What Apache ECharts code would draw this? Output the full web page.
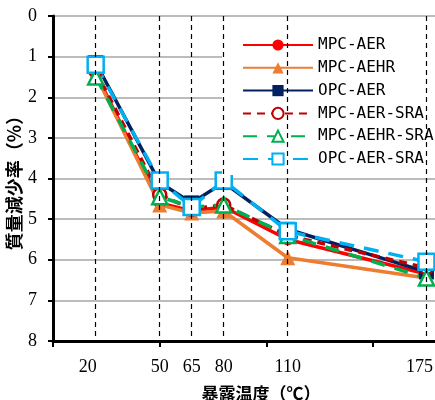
<!DOCTYPE html>
<html>
<head>
<meta charset="utf-8">
<script src="https://cdn.jsdelivr.net/npm/echarts@6/dist/echarts.min.js"></script>
<style>
  html, body { margin: 0; padding: 0; background: #fff; }
  #chart { width: 435px; height: 400px; }
</style>
</head>
<body>
<div id="chart"></div>
<script>
// exposure temperatures (deg C)
var temps = [20, 50, 65, 80, 110, 175]
var tickTemps = [0, 50, 100, 150]

// mass loss rate (%)
var mpcAer = [1.4, 4.6, 4.8, 4.7, 5.5, 6.35]
var mpcAehr = [1.45, 4.65, 4.85, 4.8, 5.95, 6.45]
var opcAer = [1.15, 4.1, 4.6, 4.1, 5.25, 6.3]
var mpcAerSra = [1.35, 4.4, 4.75, 4.65, 5.4, 6.2]
var mpcAehrSra = [1.5, 4.45, 4.7, 4.65, 5.4, 6.45]
var opcAerSra = [1.2, 4.05, 4.7, 4.05, 5.3, 6.05]

function pairs(vals) {
  return temps.map(function (t, i) { return [t, vals[i]] })
}

var chart = echarts.init(document.getElementById('chart'))

function lineSeries(name, vals, color, symbol, size, dashed, hollow) {
  return {
    name: name,
    type: 'line',
    data: pairs(vals),
    symbol: symbol,
    symbolSize: size,
    showSymbol: true,
    lineStyle: {
      color: color,
      width: 3.5,
      type: dashed ? dashed : 'solid'
    },
    itemStyle: {
      color: hollow ? '#fff' : color,
      borderColor: color,
      borderWidth: hollow ? 2.5 : 0
    },
    z: 3
  }
}

var series = [
  lineSeries('MPC-AER', mpcAer, '#ff0000', 'circle', 12, null, false),
  lineSeries('MPC-AEHR', mpcAehr, '#ed7d31', 'triangle', 15, null, false),
  lineSeries('OPC-AER', opcAer, '#002060', 'rect', 15, null, false),
  lineSeries('MPC-AER-SRA', mpcAerSra, '#c00000', 'circle', 13, [8, 6], true),
  lineSeries('MPC-AEHR-SRA', mpcAehrSra, '#00b050', 'triangle', 15, [14, 10], true),
  lineSeries('OPC-AER-SRA', opcAerSra, '#00b0f0', 'rect', 16, [15, 10], true)
]

// dashed vertical guides at each temperature
series.push({
  type: 'line',
  data: [],
  silent: true,
  z: 1,
  markLine: {
    silent: true,
    symbol: 'none',
    label: { show: false },
    lineStyle: { color: '#000', type: [5, 4], width: 1.2 },
    data: temps.map(function (t) { return { xAxis: t } })
  }
})

chart.setOption({
  animation: false,
  backgroundColor: '#fff',
  grid: { left: 53, right: 0, top: 16, bottom: 59, outerBoundsMode: 'none', containLabel: false },
  legend: {
    orient: 'vertical',
    left: 222,
    top: 27,
    padding: [10, 8, 8, 20],
    backgroundColor: '#fff',
    itemWidth: 70,
    itemHeight: 14,
    itemGap: 6.8,
    textStyle: { fontFamily: 'DejaVu Sans Mono', fontSize: 16, color: '#000' },
    data: ['MPC-AER', 'MPC-AEHR', 'OPC-AER', 'MPC-AER-SRA', 'MPC-AEHR-SRA', 'OPC-AER-SRA']
  },
  xAxis: {
    type: 'value',
    min: 0,
    max: 179,
    name: '暴露温度（℃）',
    nameLocation: 'middle',
    nameGap: 44,
    nameTextStyle: {
      fontFamily: 'Noto Sans CJK JP',
      fontWeight: 'bold',
      fontSize: 17,
      color: '#000',
      padding: [0, 0, 0, 34]
    },
    axisLine: { show: true, onZero: false, lineStyle: { color: '#000', width: 3 } },
    axisTick: { show: true, length: 6, customValues: tickTemps, lineStyle: { color: '#000', width: 2 } },
    axisLabel: {
      customValues: temps,
      margin: 17,
      fontFamily: 'Liberation Serif',
      fontSize: 18,
      color: '#000',
      formatter: function (v) {
        if (v === 20) return '{a|20}'
        if (v === 175) return '{b|175}'
        return String(v)
      },
      rich: {
        a: { fontFamily: 'Liberation Serif', fontSize: 18, padding: [0, 16, 0, 0] },
        b: { fontFamily: 'Liberation Serif', fontSize: 18, padding: [0, 14, 0, 0] }
      }
    },
    splitLine: { show: false }
  },
  yAxis: {
    type: 'value',
    inverse: true,
    min: 0,
    max: 8,
    interval: 1,
    name: '質量減少率（%）',
    nameLocation: 'middle',
    nameGap: 30,
    nameMoveOverlap: false,
    nameTextStyle: {
      fontFamily: 'Noto Sans CJK JP',
      fontWeight: 'bold',
      fontSize: 18,
      color: '#000'
    },
    axisLine: { show: true, lineStyle: { color: '#000', width: 3 } },
    axisTick: { show: true, length: 5, lineStyle: { color: '#000', width: 2 } },
    axisLabel: {
      margin: 16,
      fontFamily: 'Liberation Serif',
      fontSize: 18,
      color: '#000'
    },
    splitLine: { show: true, lineStyle: { color: '#a6a6a6', width: 1.5 } }
  },
  series: series
})
</script>
</body>
</html>
